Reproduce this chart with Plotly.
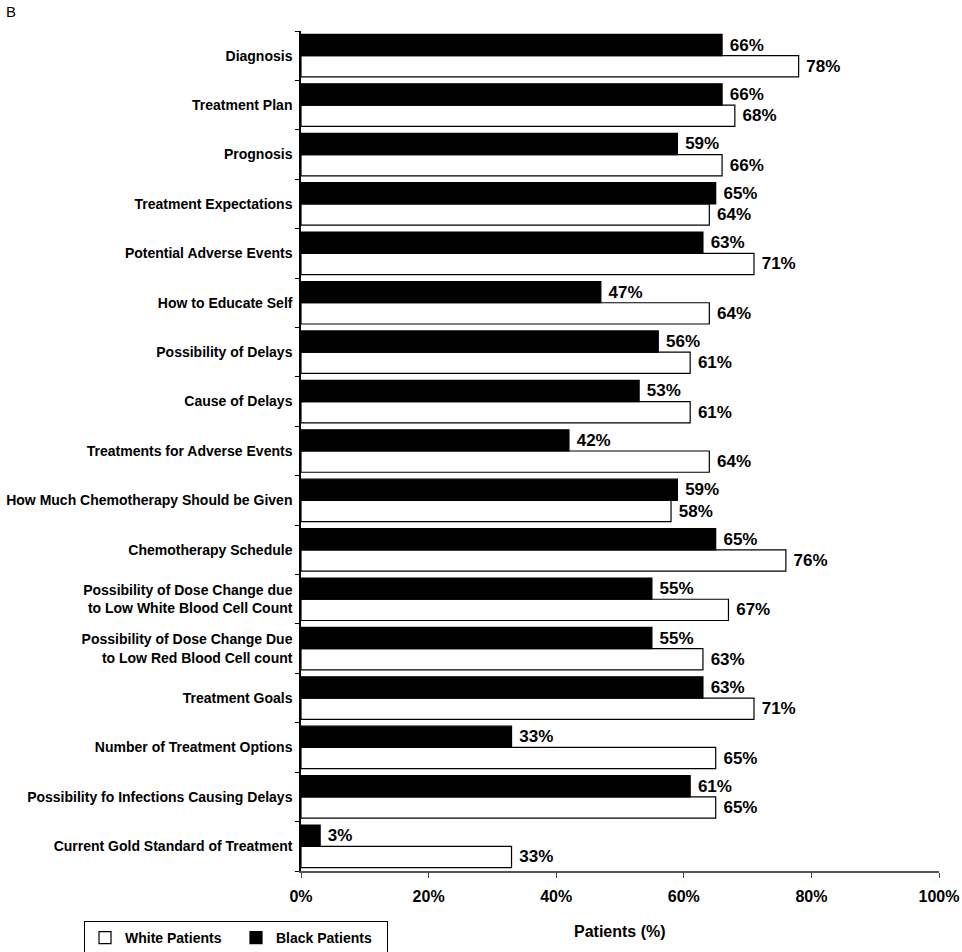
import plotly.graph_objects as go

categories = [
    "Diagnosis",
    "Treatment Plan",
    "Prognosis",
    "Treatment Expectations",
    "Potential Adverse Events",
    "How to Educate Self",
    "Possibility of Delays",
    "Cause of Delays",
    "Treatments for Adverse Events",
    "How Much Chemotherapy Should be Given",
    "Chemotherapy Schedule",
    "Possibility of Dose Change due<br>to Low White Blood Cell Count",
    "Possibility of Dose Change Due<br>to Low Red Blood Cell count",
    "Treatment Goals",
    "Number of Treatment Options",
    "Possibility fo Infections Causing Delays",
    "Current Gold Standard of Treatment",
]
black_patients = [66, 66, 59, 65, 63, 47, 56, 53, 42, 59, 65, 55, 55, 63, 33, 61, 3]
white_patients = [78, 68, 66, 64, 71, 64, 61, 61, 64, 58, 76, 67, 63, 71, 65, 65, 33]
x_ticks = [0, 20, 40, 60, 80, 100]

FONT = "Liberation Sans, Arial, sans-serif"
W, H = 962, 952
ML, MR, MT, MB = 301, 23, 31, 81
PW, PH = W - ML - MR, H - MT - MB

fig = go.Figure()
fig.add_trace(go.Bar(
    y=categories, x=white_patients, orientation="h", name="White Patients",
    marker=dict(color="white", line=dict(color="black", width=1.2)),
    text=[f" {v}%" for v in white_patients], textposition="outside",
    textfont=dict(family=FONT, size=17, color="black", weight="bold"),
    constraintext="none", cliponaxis=False, hoverinfo="skip",
))
fig.add_trace(go.Bar(
    y=categories, x=black_patients, orientation="h", name="Black Patients",
    marker=dict(color="black", line=dict(color="black", width=1.2)),
    text=[f" {v}%" for v in black_patients], textposition="outside",
    textfont=dict(family=FONT, size=17, color="black", weight="bold"),
    constraintext="none", cliponaxis=False, hoverinfo="skip",
))

fig.update_layout(
    width=W, height=H,
    margin=dict(l=ML, r=MR, t=MT, b=MB, autoexpand=False),
    barmode="group", bargap=0.14, bargroupgap=0,
    plot_bgcolor="white", paper_bgcolor="white",
    font=dict(family=FONT, color="black"),
    showlegend=True,
    legend=dict(
        orientation="h", xref="container", yref="container",
        x=84 / W, y=1 - 921 / H, xanchor="left", yanchor="top",
        bordercolor="black", borderwidth=1, bgcolor="white",
        font=dict(family=FONT, size=14, weight="bold"),
        itemwidth=30, entrywidth=106, traceorder="normal",
    ),
    annotations=[
        dict(
            text="B", xref="paper", yref="paper",
            x=(4 - ML) / PW, y=1 + (MT - 1) / PH, showarrow=False,
            xanchor="left", yanchor="top", font=dict(family=FONT, size=15),
        ),
        dict(
            text="Patients (%)", xref="paper", yref="paper",
            x=0.5, y=-(931 - (H - MB)) / PH, showarrow=False,
            xanchor="center", yanchor="middle",
            font=dict(family=FONT, size=16, weight="bold"),
        ),
    ],
)

fig.update_xaxes(
    range=[0, 100], tickvals=x_ticks, ticktext=[f"{v}%" for v in x_ticks],
    automargin=False,
    showgrid=False, zeroline=False, showline=True, linecolor="#555555", linewidth=2,
    ticks="outside", ticklen=5, tickcolor="#444444", tickwidth=1,
    ticklabelstandoff=5,
    tickfont=dict(family=FONT, size=16, weight="bold"),
)
fig.update_yaxes(
    categoryorder="array", categoryarray=categories[::-1],
    automargin=False,
    showgrid=False, zeroline=False, showline=True, linecolor="black", linewidth=1.5,
    ticks="outside", ticklen=4, tickcolor="black", tickson="boundaries",
    ticklabelstandoff=4,
    tickfont=dict(family=FONT, size=14, weight="bold"),
)

fig.write_html(
    "out.html",
    config={"displayModeBar": False},
    post_script="document.body.style.margin='0';document.body.style.overflow='hidden';",
)
